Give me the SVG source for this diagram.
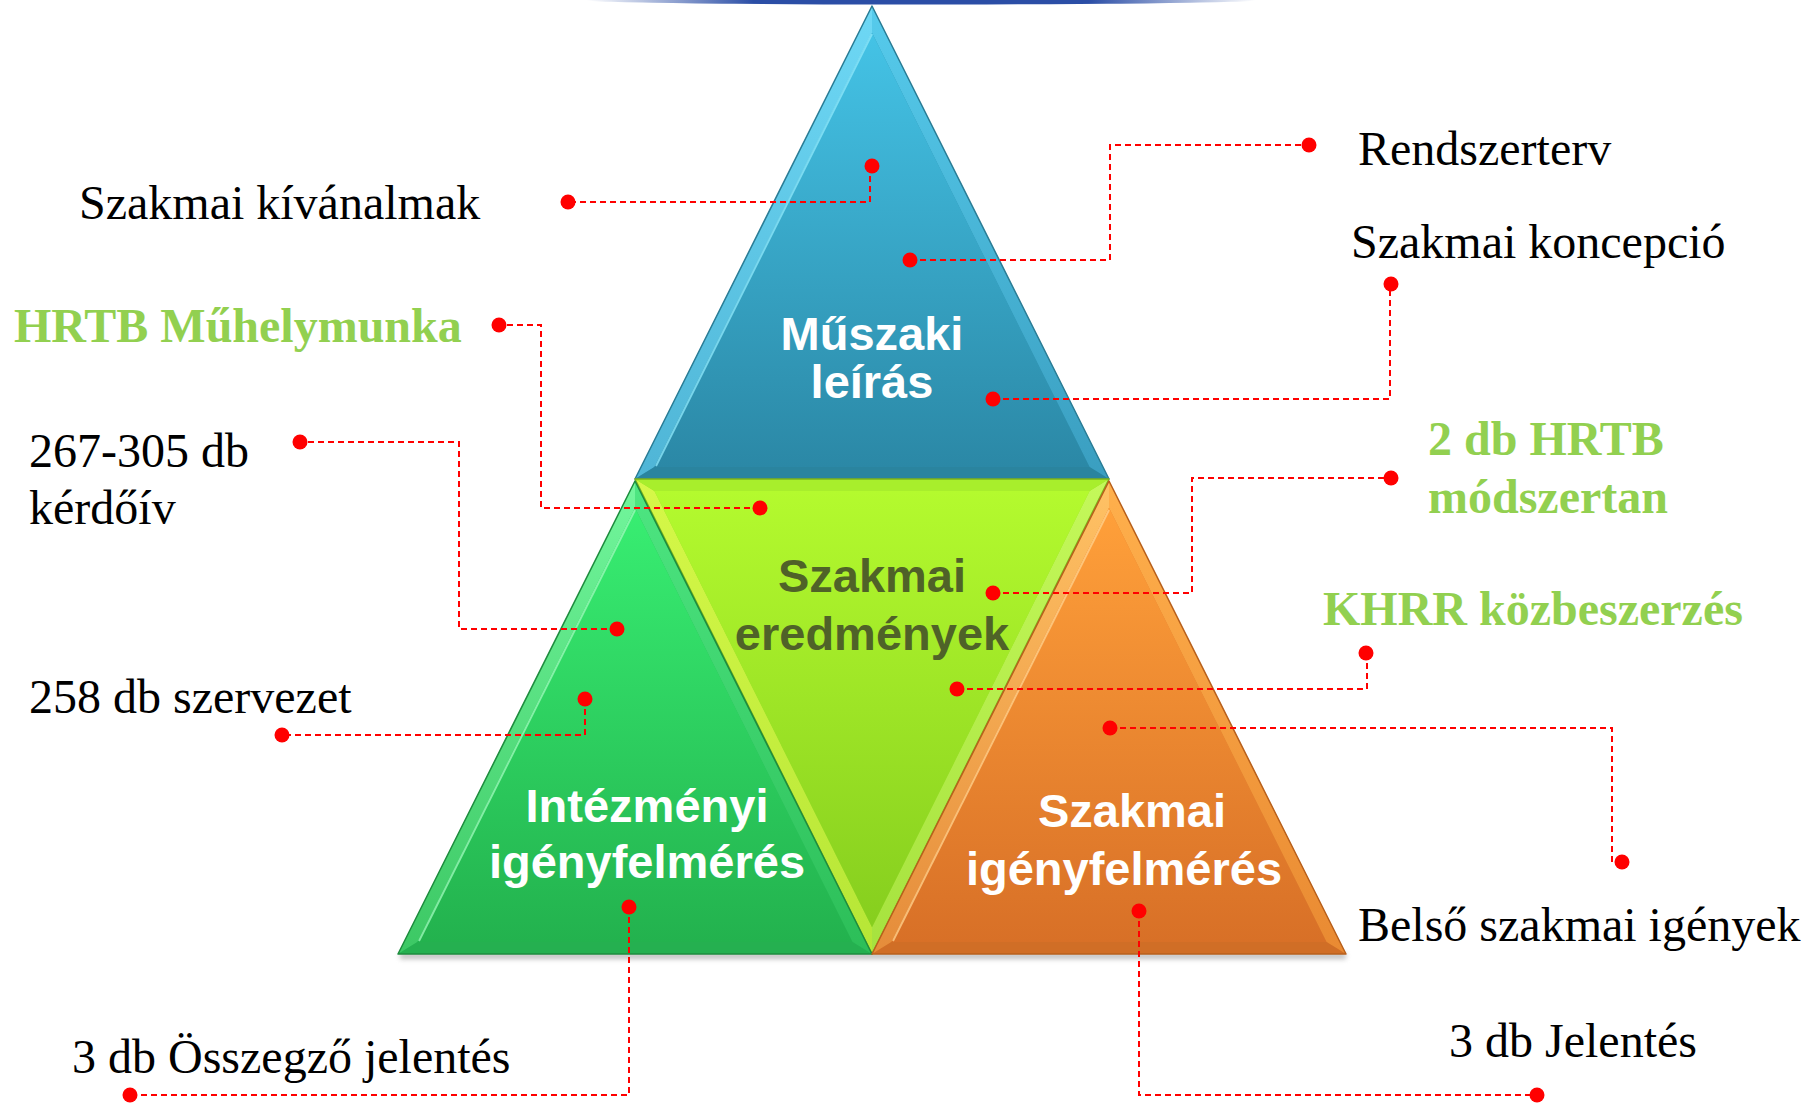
<svg xmlns="http://www.w3.org/2000/svg" width="1820" height="1103" viewBox="0 0 1820 1103">
<style>
.lbl{font-family:"Liberation Serif","Times New Roman",serif;font-size:48px;fill:#000}
.glbl{font-family:"Liberation Serif","Times New Roman",serif;font-size:48px;font-weight:bold;fill:#92D050}
.node{font-family:"Liberation Sans",Arial,sans-serif;font-size:47px;font-weight:bold;fill:#fff;text-anchor:middle}
.olive{fill:#4F6228}
.conn{fill:none;stroke:#FF0000;stroke-width:2;stroke-dasharray:6 4}
.dot{fill:#FF0000}
.edge{fill:none;stroke-width:1.5;stroke-linejoin:round}
</style>
<defs>
<linearGradient id="topbar" x1="0" y1="0" x2="1" y2="0">
<stop offset="0" stop-color="#2B4EA6" stop-opacity="0"/>
<stop offset="0.25" stop-color="#2B4EA6"/>
<stop offset="0.75" stop-color="#2B4EA6"/>
<stop offset="1" stop-color="#2B4EA6" stop-opacity="0"/>
</linearGradient>
<linearGradient id="bMain" x1="0" y1="0" x2="0" y2="1"><stop offset="0" stop-color="#44C3E6"/><stop offset="1" stop-color="#2B88A6"/></linearGradient>
<linearGradient id="bLeft" x1="0" y1="0" x2="0" y2="1"><stop offset="0" stop-color="#6ED8F5"/><stop offset="1" stop-color="#4FB5D6"/></linearGradient>
<linearGradient id="bRight" x1="0" y1="0" x2="0" y2="1"><stop offset="0" stop-color="#56CBEC"/><stop offset="1" stop-color="#3A9EC0"/></linearGradient>
<linearGradient id="gMain" x1="0" y1="0" x2="0" y2="1"><stop offset="0" stop-color="#38EE72"/><stop offset="1" stop-color="#23B24E"/></linearGradient>
<linearGradient id="gLeft" x1="0" y1="0" x2="0" y2="1"><stop offset="0" stop-color="#72F69C"/><stop offset="1" stop-color="#3CC864"/></linearGradient>
<linearGradient id="gRight" x1="0" y1="0" x2="0" y2="1"><stop offset="0" stop-color="#4EE682"/><stop offset="1" stop-color="#2CBE58"/></linearGradient>
<linearGradient id="lMain" x1="0" y1="0" x2="0" y2="1"><stop offset="0" stop-color="#B4FA2E"/><stop offset="1" stop-color="#86CE1E"/></linearGradient>
<linearGradient id="lLeft" x1="0" y1="0" x2="0" y2="1"><stop offset="0" stop-color="#D6F848"/><stop offset="1" stop-color="#B6E636"/></linearGradient>
<linearGradient id="lRight" x1="0" y1="0" x2="0" y2="1"><stop offset="0" stop-color="#C4F85A"/><stop offset="1" stop-color="#A6E23E"/></linearGradient>
<linearGradient id="oMain" x1="0" y1="0" x2="0" y2="1"><stop offset="0" stop-color="#FFA03A"/><stop offset="1" stop-color="#D87027"/></linearGradient>
<linearGradient id="oLeft" x1="0" y1="0" x2="0" y2="1"><stop offset="0" stop-color="#FFC265"/><stop offset="1" stop-color="#E58C3A"/></linearGradient>
<linearGradient id="oRight" x1="0" y1="0" x2="0" y2="1"><stop offset="0" stop-color="#FFB04C"/><stop offset="1" stop-color="#E98A32"/></linearGradient>
<filter id="blur" x="-5%" y="-100%" width="110%" height="300%"><feGaussianBlur stdDeviation="2.5"/></filter>
</defs>

<rect width="1820" height="1103" fill="#FFFFFF"/>
<ellipse cx="921" cy="0" rx="335" ry="4.5" fill="url(#topbar)"/>

<rect x="400" y="953" width="946" height="6" fill="#8a8a8a" opacity="0.55" filter="url(#blur)"/>

<g id="node-muszaki">
<polygon points="872,6 635,479 1109,479" fill="#2F95B4"/>
<polygon points="872,6 635,479 654.4,467 872,32.8" fill="url(#bLeft)"/>
<polygon points="872,6 1109,479 1089.6,467 872,32.8" fill="url(#bRight)"/>
<polygon points="635,479 1109,479 1089.6,467 654.4,467" fill="#2A849F"/>
<polygon points="872,32.8 654.4,467 1089.6,467" fill="url(#bMain)"/>
<line x1="872" y1="34" x2="656" y2="466" stroke="#8BE6FA" stroke-width="2" opacity="0.8"/>
<polygon class="edge" points="872,6 635,479 1109,479" stroke="#2A7C95"/>
<text class="node" x="872" y="350">Műszaki</text>
<text class="node" x="872" y="398">leírás</text>
</g>

<g id="node-eredmenyek">
<polygon points="635,479 1109,479 872,954" fill="#9BE028"/>
<polygon points="635,479 872,954 872,927.2 654.4,491" fill="url(#lLeft)"/>
<polygon points="1109,479 872,954 872,927.2 1089.6,491" fill="url(#lRight)"/>
<polygon points="635,479 1109,479 1089.6,491 654.4,491" fill="#A8EE2C"/>
<polygon points="654.4,491 1089.6,491 872,927.2" fill="url(#lMain)"/>
<polygon class="edge" points="635,479 1109,479 872,954" stroke="#7DB31C"/>
<text class="node olive" x="872" y="592">Szakmai</text>
<text class="node olive" x="872" y="650">eredmények</text>
</g>

<g id="node-intezmenyi">
<polygon points="635,481 398,954 872,954" fill="#2BBF5A"/>
<polygon points="635,481 398,954 417.4,942 635,507.8" fill="url(#gLeft)"/>
<polygon points="635,481 872,954 852.6,942 635,507.8" fill="url(#gRight)"/>
<polygon points="398,954 872,954 852.6,942 417.4,942" fill="#25B050"/>
<polygon points="635,507.8 417.4,942 852.6,942" fill="url(#gMain)"/>
<line x1="635" y1="510" x2="419" y2="941" stroke="#9AF8B8" stroke-width="2" opacity="0.8"/>
<polygon class="edge" points="635,481 398,954 872,954" stroke="#1E8C3E"/>
<text class="node" x="647" y="822">Intézményi</text>
<text class="node" x="647" y="878">igényfelmérés</text>
</g>

<g id="node-szakmai-igeny">
<polygon points="1109,481 872,954 1346,954" fill="#E0822F"/>
<polygon points="1109,481 872,954 891.4,942 1109,507.8" fill="url(#oLeft)"/>
<polygon points="1109,481 1346,954 1326.6,942 1109,507.8" fill="url(#oRight)"/>
<polygon points="872,954 1346,954 1326.6,942 891.4,942" fill="#D06E26"/>
<polygon points="1109,507.8 891.4,942 1326.6,942" fill="url(#oMain)"/>
<line x1="1109" y1="510" x2="893" y2="941" stroke="#FFD08A" stroke-width="2" opacity="0.8"/>
<polygon class="edge" points="1109,481 872,954 1346,954" stroke="#B8601C"/>
<text class="node" x="1132" y="827">Szakmai</text>
<text class="node" x="1124" y="885">igényfelmérés</text>
</g>

<g id="connectors">
<path class="conn" d="M870,166 V202 H568"/>
<path class="conn" d="M910,260 H1110 V145 H1309"/>
<path class="conn" d="M993,399 H1390 V284"/>
<path class="conn" d="M760,508 H541 V325 H499"/>
<path class="conn" d="M617,629 H459 V442 H300"/>
<path class="conn" d="M585,699 V735 H282"/>
<path class="conn" d="M993,593 H1192 V478 H1391"/>
<path class="conn" d="M957,689 H1367 V653"/>
<path class="conn" d="M1110,728 H1612 V862"/>
<path class="conn" d="M629,907 V1095 H130"/>
<path class="conn" d="M1139,911 V1095 H1537"/>
<circle class="dot" cx="872" cy="166" r="7.5"/><circle class="dot" cx="568" cy="202" r="7.5"/>
<circle class="dot" cx="910" cy="260" r="7.5"/><circle class="dot" cx="1309" cy="145" r="7.5"/>
<circle class="dot" cx="993" cy="399" r="7.5"/><circle class="dot" cx="1391" cy="284" r="7.5"/>
<circle class="dot" cx="760" cy="508" r="7.5"/><circle class="dot" cx="499" cy="325" r="7.5"/>
<circle class="dot" cx="617" cy="629" r="7.5"/><circle class="dot" cx="300" cy="442" r="7.5"/>
<circle class="dot" cx="585" cy="699" r="7.5"/><circle class="dot" cx="282" cy="735" r="7.5"/>
<circle class="dot" cx="993" cy="593" r="7.5"/><circle class="dot" cx="1391" cy="478" r="7.5"/>
<circle class="dot" cx="957" cy="689" r="7.5"/><circle class="dot" cx="1366" cy="653" r="7.5"/>
<circle class="dot" cx="1110" cy="728" r="7.5"/><circle class="dot" cx="1622" cy="862" r="7.5"/>
<circle class="dot" cx="629" cy="907" r="7.5"/><circle class="dot" cx="130" cy="1095" r="7.5"/>
<circle class="dot" cx="1139" cy="911" r="7.5"/><circle class="dot" cx="1537" cy="1095" r="7.5"/>
</g>

<g id="label-kivanalmak"><text class="lbl" x="79" y="219">Szakmai kívánalmak</text></g>
<g id="label-rendszerterv"><text class="lbl" x="1358" y="165">Rendszerterv</text></g>
<g id="label-koncepcio"><text class="lbl" x="1351" y="258">Szakmai koncepció</text></g>
<g id="label-muhelymunka"><text class="glbl" x="14" y="342">HRTB Műhelymunka</text></g>
<g id="label-kerdoiv"><text class="lbl" x="29" y="467">267-305 db</text><text class="lbl" x="29" y="524">kérdőív</text></g>
<g id="label-szervezet"><text class="lbl" x="29" y="713">258 db szervezet</text></g>
<g id="label-osszegzo"><text class="lbl" x="72" y="1073">3 db Összegző jelentés</text></g>
<g id="label-modszertan"><text class="glbl" x="1428" y="455">2 db HRTB</text><text class="glbl" x="1428" y="513">módszertan</text></g>
<g id="label-khrr"><text class="glbl" x="1323" y="625">KHRR közbeszerzés</text></g>
<g id="label-belso"><text class="lbl" x="1358" y="941">Belső szakmai igények</text></g>
<g id="label-jelentes"><text class="lbl" x="1449" y="1057">3 db Jelentés</text></g>
</svg>
